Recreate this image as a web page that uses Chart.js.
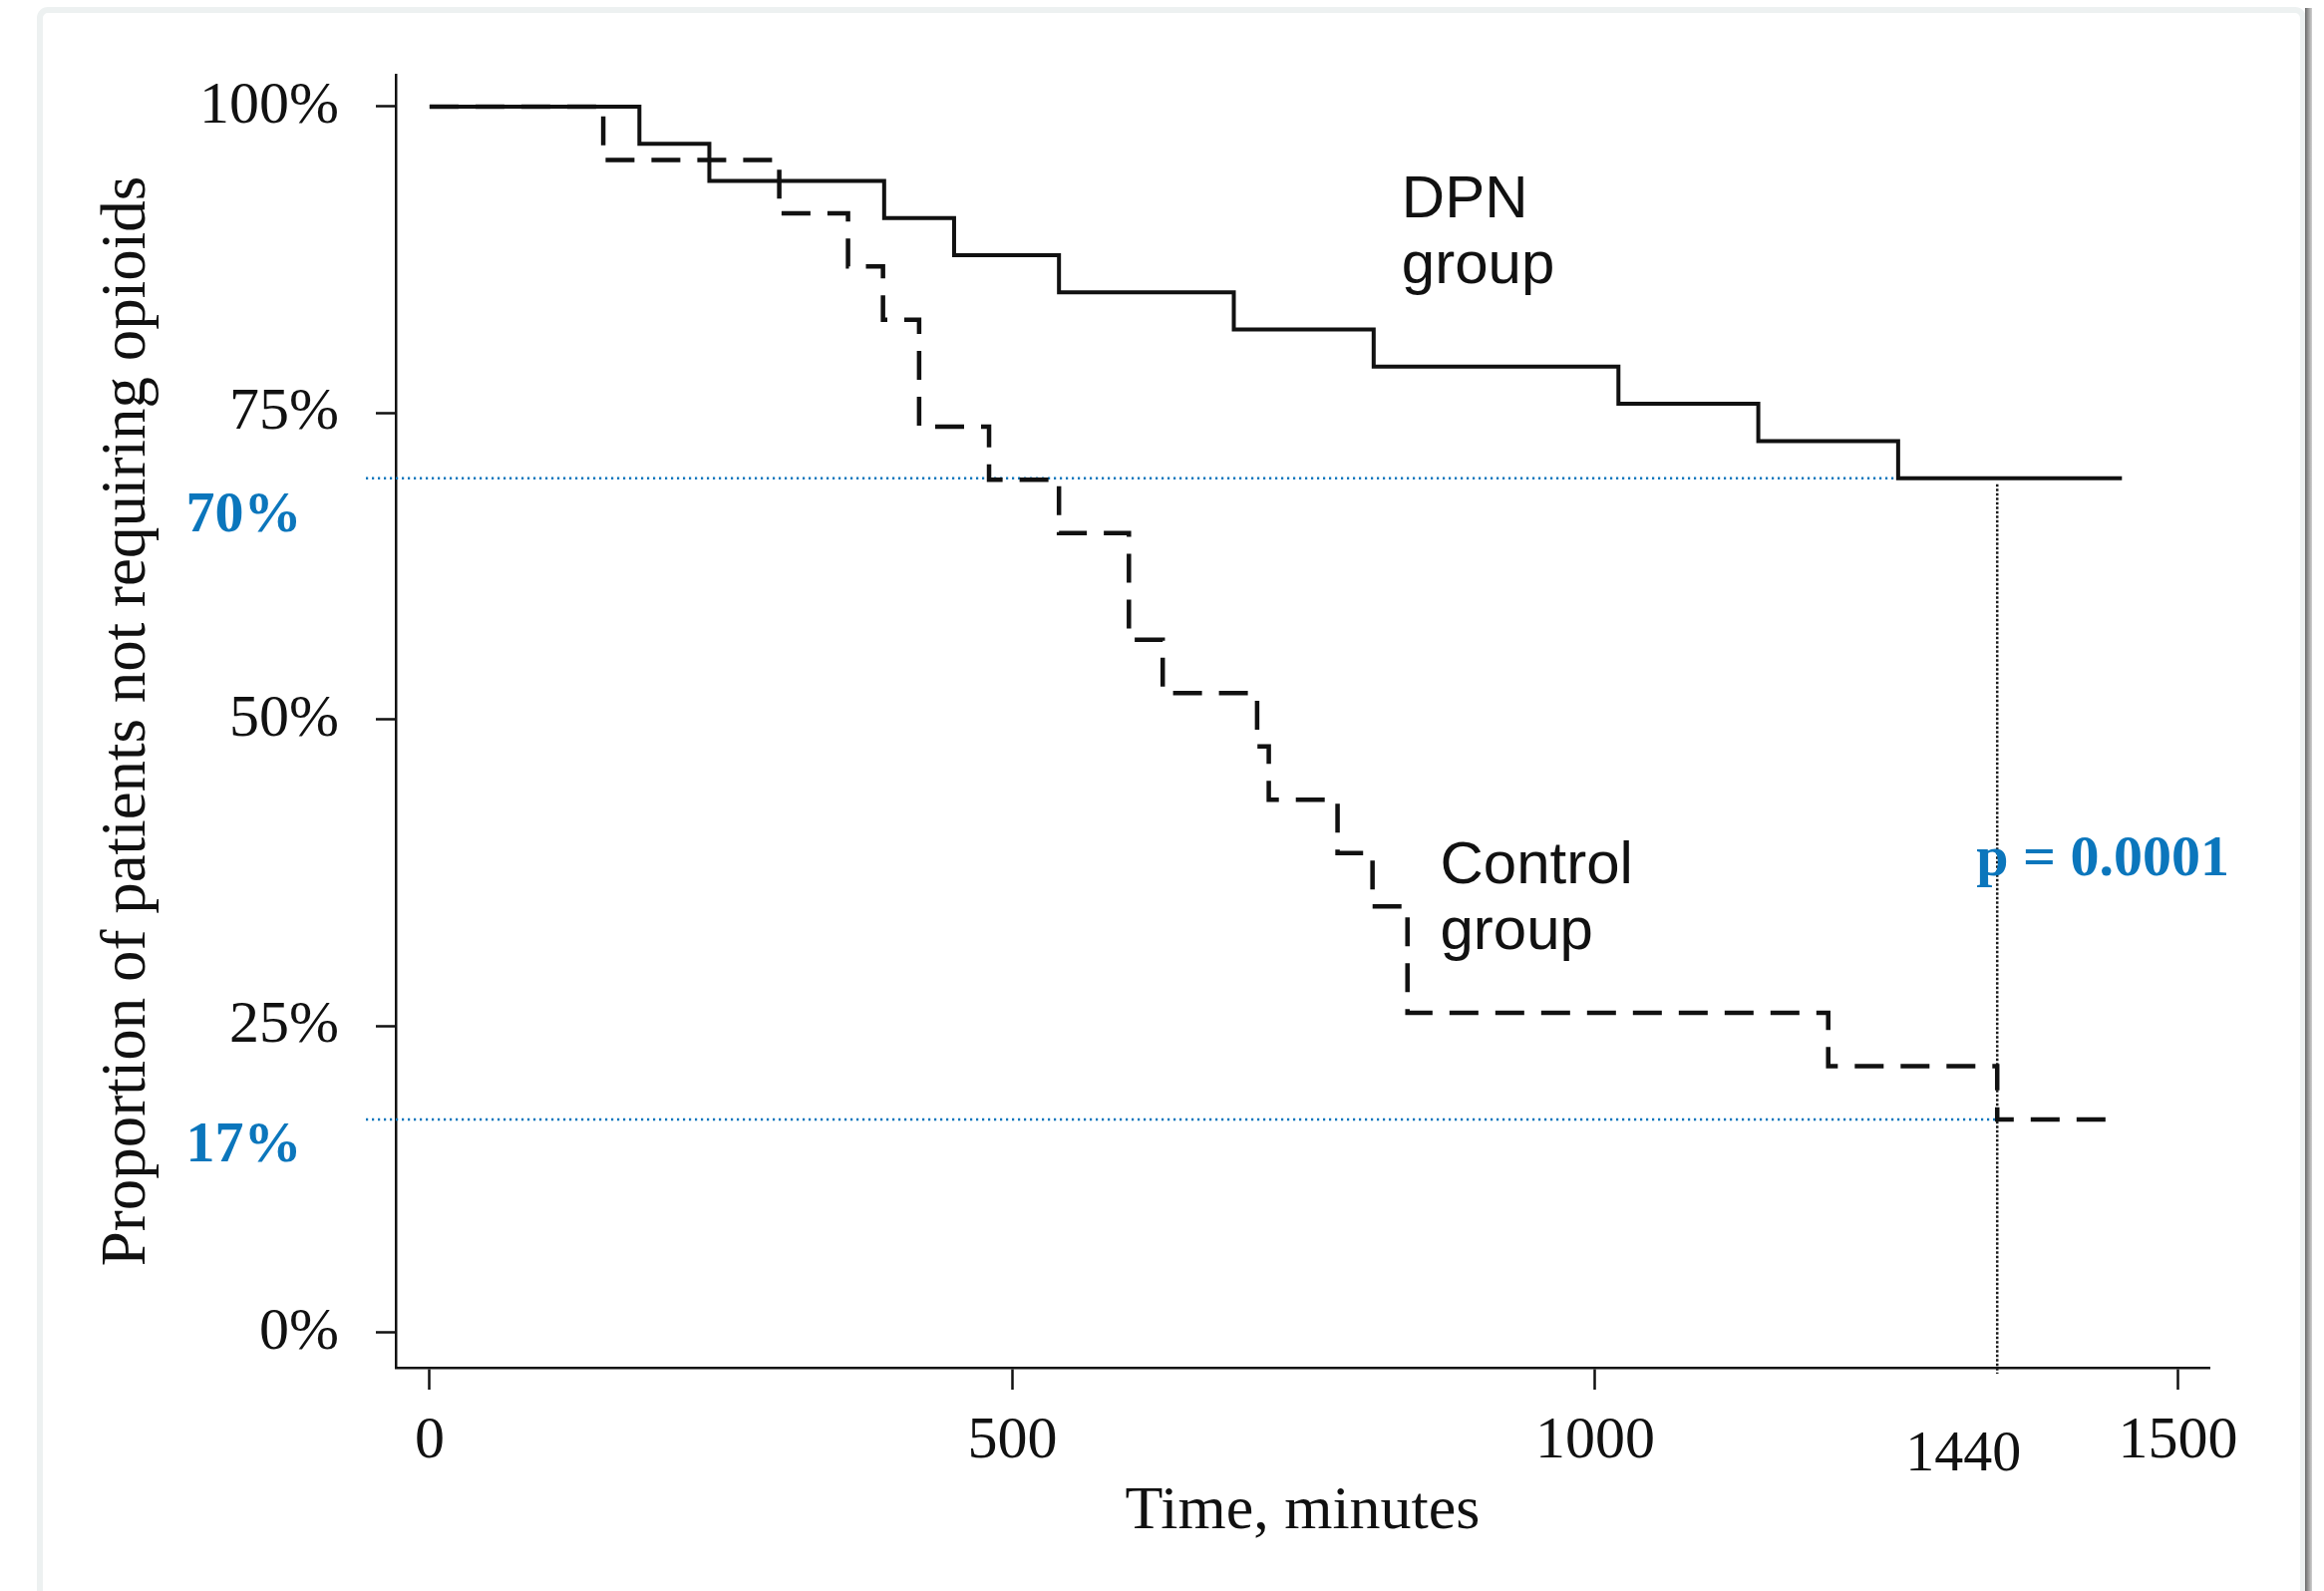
<!DOCTYPE html>
<html>
<head>
<meta charset="utf-8">
<title>Proportion of patients not requiring opioids</title>
<script src="https://cdn.jsdelivr.net/npm/chart.js@4.4.1/dist/chart.umd.min.js"></script>
<style>
  html, body { margin: 0; padding: 0; background: #fff; }
  canvas { display: block; }
</style>
</head>
<body>
<canvas id="kmChart" width="2331" height="1596"></canvas>
<script>
// Kaplan-Meier curves: time in minutes, proportion not requiring opioids in %
const dpnTimes = [0, 180, 240, 390, 450, 540, 690, 810, 1020, 1140, 1260, 1452];
const dpnValues = [100, 96.97, 93.94, 90.91, 87.88, 84.85, 81.82, 78.79, 75.76, 72.73, 69.70, 69.70];

const controlTimes = [0, 149, 300, 359, 389, 420, 480, 540, 600, 629, 710, 720, 779, 809, 839, 1200, 1345, 1446];
const controlValues = [100, 95.65, 91.30, 86.96, 82.61, 73.91, 69.57, 65.22, 56.52, 52.17, 47.83, 43.48, 39.13, 34.78, 26.09, 21.74, 17.39, 17.39];

const yTicks = [0, 25, 50, 75, 100];
const xTicks = [0, 500, 1000, 1500];

const markerTime = 1345;   // vertical dotted line, labelled "1440" under the axis
const markerLabel = '1440';
const pText = 'p = 0.0001';

const serif = 'Liberation Serif';
const sans = 'Liberation Sans';
const blue = '#0b76bc';
const ink = '#111';

function toPoints(times, values) {
  return times.map(function(t, i) { return { x: t, y: values[i] }; });
}

function dotted(ctx, x1, y1, x2, y2, color, width, dash) {
  ctx.save();
  ctx.strokeStyle = color;
  ctx.lineWidth = width;
  ctx.setLineDash(dash);
  ctx.beginPath();
  ctx.moveTo(x1, y1);
  ctx.lineTo(x2, y2);
  ctx.stroke();
  ctx.restore();
}

function label(ctx, str, x, y, font, color, align) {
  ctx.save();
  ctx.font = font;
  ctx.fillStyle = color;
  ctx.textAlign = align || 'left';
  ctx.textBaseline = 'alphabetic';
  ctx.fillText(str, x, y);
  ctx.restore();
}

// page frame, reference lines and text notes
const notes = {
  id: 'notes',
  beforeDraw: function(chart) {
    const ctx = chart.ctx;
    ctx.save();
    ctx.fillStyle = '#fff';
    ctx.fillRect(0, 0, chart.width, chart.height);
    ctx.strokeStyle = '#edf1f1';
    ctx.lineWidth = 6;
    ctx.beginPath();
    ctx.roundRect(40, 10, 2270, 1620, 8);
    ctx.stroke();
    const g = ctx.createLinearGradient(2312, 0, 2319, 0);
    g.addColorStop(0, '#6a6a6a');
    g.addColorStop(1, '#d0d0d0');
    ctx.fillStyle = g;
    ctx.fillRect(2312, 8, 7, chart.height);
    ctx.restore();
  },
  beforeDatasetsDraw: function(chart) {
    const ctx = chart.ctx;
    const x = chart.scales.x, y = chart.scales.y;
    const left = chart.chartArea.left - 30;
    const dpnEnd = dpnValues[dpnValues.length - 1];
    const ctlEnd = controlValues[controlValues.length - 1];
    dotted(ctx, left, y.getPixelForValue(dpnEnd), x.getPixelForValue(dpnTimes[dpnTimes.length - 2]), y.getPixelForValue(dpnEnd), blue, 2.5, [2.2, 3.8]);
    dotted(ctx, left, y.getPixelForValue(ctlEnd), x.getPixelForValue(markerTime), y.getPixelForValue(ctlEnd), blue, 2.5, [2.2, 3.8]);
    dotted(ctx, x.getPixelForValue(markerTime), y.getPixelForValue(dpnEnd) + 6, x.getPixelForValue(markerTime), chart.chartArea.bottom + 6, '#1a1a1a', 2.5, [2.5, 2]);
  },
  afterDraw: function(chart) {
    const ctx = chart.ctx;
    const x = chart.scales.x, y = chart.scales.y;
    const sansFont = '60px "' + sans + '"';
    label(ctx, 'DPN', x.getPixelForValue(834), y.getPixelForValue(91.0), sansFont, ink);
    label(ctx, 'group', x.getPixelForValue(834), y.getPixelForValue(85.6), sansFont, ink);
    label(ctx, 'Control', x.getPixelForValue(867), y.getPixelForValue(36.7), sansFont, ink);
    label(ctx, 'group', x.getPixelForValue(867), y.getPixelForValue(31.3), sansFont, ink);
    const boldFont = 'bold 58px "' + serif + '"';
    label(ctx, '70%', x.getPixelForValue(-209), y.getPixelForValue(65.4), boldFont, blue);
    label(ctx, '17%', x.getPixelForValue(-209), y.getPixelForValue(14.0), boldFont, blue);
    label(ctx, pText, x.getPixelForValue(1327), y.getPixelForValue(37.3), boldFont, blue);
    label(ctx, markerLabel, x.getPixelForValue(1316), y.getPixelForValue(-11.2), '58px "' + serif + '"', ink, 'center');
  }
};

new Chart(document.getElementById('kmChart'), {
  type: 'line',
  data: {
    datasets: [
      {
        label: 'DPN group',
        data: toPoints(dpnTimes, dpnValues),
        borderColor: ink,
        borderWidth: 4,
        stepped: 'before',
        pointRadius: 0,
        fill: false
      },
      {
        label: 'Control group',
        data: toPoints(controlTimes, controlValues),
        borderColor: ink,
        borderWidth: 4.5,
        borderDash: [29, 17],
        stepped: 'before',
        pointRadius: 0,
        fill: false
      }
    ]
  },
  options: {
    responsive: false,
    animation: false,
    devicePixelRatio: 1,
    layout: { padding: { top: 75, right: 115, bottom: 0, left: 0 } },
    plugins: {
      legend: { display: false },
      tooltip: { enabled: false }
    },
    scales: {
      x: {
        type: 'linear',
        min: -29,
        max: 1527,
        afterBuildTicks: function(scale) {
          scale.ticks = xTicks.map(function(v) { return { value: v }; });
        },
        afterFit: function(scale) { scale.height = 224; },
        ticks: {
          autoSkip: false,
          maxRotation: 0,
          padding: 16,
          color: ink,
          font: { family: serif, size: 60 },
          callback: function(v) { return String(v); }
        },
        grid: { display: true, drawOnChartArea: false, drawTicks: true, tickLength: 22, tickWidth: 2.5, tickColor: ink },
        border: { display: true, color: ink, width: 2.5 },
        title: {
          display: true,
          text: 'Time, minutes',
          color: ink,
          font: { family: serif, size: 62 },
          padding: { top: 0, bottom: 42 }
        }
      },
      y: {
        min: -2.85,
        max: 102.6,
        afterBuildTicks: function(scale) {
          scale.ticks = yTicks.map(function(v) { return { value: v }; });
        },
        afterFit: function(scale) { scale.width = 397; },
        ticks: {
          autoSkip: false,
          padding: 37,
          color: ink,
          font: { family: serif, size: 60 },
          callback: function(v) { return v + '%'; }
        },
        grid: { display: true, drawOnChartArea: false, drawTicks: true, tickLength: 20, tickWidth: 2.5, tickColor: ink },
        border: { display: true, color: ink, width: 2.5 },
        title: {
          display: true,
          text: 'Proportion of patients not requiring opioids',
          color: ink,
          font: { family: serif, size: 63 },
          padding: { top: 91, bottom: 0 }
        }
      }
    }
  },
  plugins: [notes]
});
</script>
</body>
</html>
